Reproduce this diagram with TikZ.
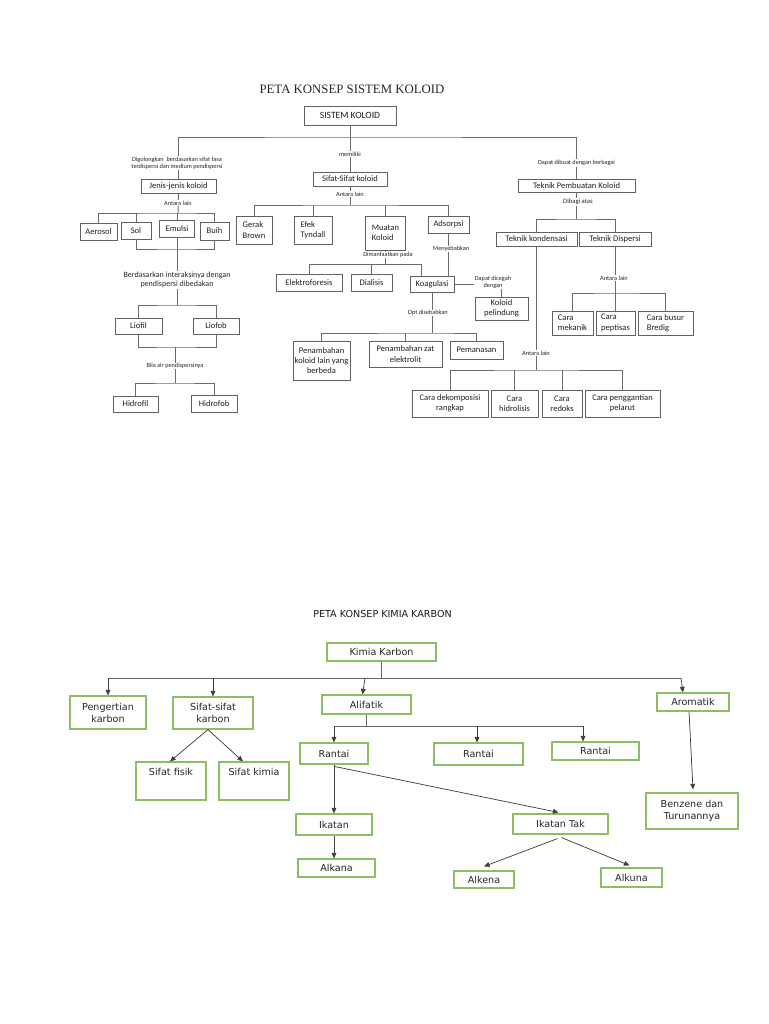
\documentclass[tikz,border=0pt]{standalone}
\usepackage{fontspec}
\newfontfamily\carl{Carlito}
\newfontfamily\dejav{DejaVu Sans}
\newfontfamily\tnr{Liberation Serif}
\usetikzlibrary{arrows.meta,calc}
\definecolor{gborder}{RGB}{140,190,100}
\begin{document}
\begin{tikzpicture}[x=0.75pt,y=-0.75pt,
  sz/.style 2 args={minimum width=#1*0.75pt,minimum height=#2*0.75pt},
  tbox/.style={draw=black!62,line width=0.7pt,font=\carl\fontsize{6.4}{7.8}\selectfont,text=black!88,inner sep=1pt,align=center},
  tlbl/.style={fill=white,inner sep=0.6pt,text=black!85,align=center,font=\carl\fontsize{4.7}{5.2}\selectfont},
  tline/.style={draw=black!58,line width=0.7pt},
  gbox/.style={draw=gborder,line width=0.85pt,font=\dejav\fontsize{7.2}{9}\selectfont,text=black!85,inner sep=1pt,align=center},
  toptext/.style={text height=5.25pt,text depth=14pt},
  arr/.style={draw=black!75,line width=0.55pt,-{Triangle[length=4.2pt,width=3.6pt]}},
  gline/.style={draw=black!60,line width=0.7pt},
]
\fill[white] (0,0) rectangle (768,1024);
\useasboundingbox (0,0) rectangle (768,1024);

%================ TOP: PETA KONSEP SISTEM KOLOID ================
\node[font=\tnr\fontsize{9.6}{11}\selectfont,text=black!85] (title1) at (352,89) {PETA KONSEP SISTEM KOLOID};

\node[tbox,sz={92}{19},font=\carl\fontsize{7.2}{8}\selectfont] (sk) at (350,115.5) {SISTEM KOLOID};

% left branch
\node[tbox,sz={75}{14}] (jk) at (178.5,186) {Jenis-jenis koloid};
\node[tbox,sz={37}{17}] (aer) at (98.5,231.5) {Aerosol};
\node[tbox,sz={30}{17}] (sol) at (136,230.5) {Sol};
\node[tbox,sz={35}{17}] (emul) at (177,228.5) {Emulsi};
\node[tbox,sz={29}{18}] (buih) at (214.5,231) {Buih};
\node[tbox,sz={47}{16}] (liofil) at (138.5,326) {Liofil};
\node[tbox,sz={46}{16}] (liofob) at (216,326) {Liofob};
\node[tbox,sz={45}{16}] (hfil) at (135.5,404) {Hidrofil};
\node[tbox,sz={46}{17}] (hfob) at (214,403.5) {Hidrofob};

% middle branch
\node[tbox,sz={74}{14}] (ssk) at (350,179) {Sifat-Sifat koloid};
\node[tbox,sz={36}{28},align=left] (gb) at (254,230) {Gerak\\Brown};
\node[tbox,sz={38}{28},align=left] (et) at (313,230) {Efek\\Tyndall};
\node[tbox,sz={40}{34},align=left] (mk) at (385.5,233) {Muatan\\Koloid};
\node[tbox,sz={41}{17}] (ads) at (448.5,224.5) {Adsorpsi};
\node[tbox,sz={66}{17}] (ef) at (309,282.5) {Elektroforesis};
\node[tbox,sz={41}{17}] (dial) at (371.5,282.5) {Dialisis};
\node[tbox,sz={44}{16}] (koag) at (432,284) {Koagulasi};
\node[tbox,sz={53}{23}] (kp) at (501.5,308.5) {Koloid\\pelindung};
\node[tbox,sz={57}{39}] (pk1) at (321.5,360.5) {Penambahan\\koloid lain yang\\berbeda};
\node[tbox,sz={73}{26}] (pz) at (405.5,354) {Penambahan zat\\elektrolit};
\node[tbox,sz={53}{18}] (pem) at (476.5,350) {Pemanasan};

% right branch
\node[tbox,sz={117}{13}] (tpk) at (576.5,185.5) {Teknik Pembuatan Koloid};
\node[tbox,sz={81}{14}] (tk) at (536.5,239) {Teknik kondensasi};
\node[tbox,sz={72}{14}] (td) at (615,239) {Teknik Dispersi};
\node[tbox,sz={41}{24},align=left] (cm) at (572.5,323) {Cara\\mekanik};
\node[tbox,sz={39}{24},align=left] (cp) at (615.5,323) {Cara\\peptisas};
\node[tbox,sz={55}{24},align=left] (cb) at (665.5,323) {Cara busur\\Bredig};
\node[tbox,sz={76}{27}] (cd) at (450,403.5) {Cara dekomposisi\\rangkap};
\node[tbox,sz={47}{27}] (ch) at (514.5,403.5) {Cara\\hidrolisis};
\node[tbox,sz={40}{27}] (cr) at (562,403.5) {Cara\\redoks};
\node[tbox,sz={75}{27}] (cpp) at (622.5,403.5) {Cara penggantian\\pelarut};

% junction coordinates
\coordinate (bt) at (350,137);
\coordinate (b213) at (178,213);
\coordinate (b249) at (177,249);
\coordinate (b305) at (177,305);
\coordinate (b347) at (175,347);
\coordinate (b383) at (175,383);
\coordinate (b205) at (350,205);
\coordinate (b264) at (385.5,264);
\coordinate (k264) at (421,264);
\coordinate (b333) at (432,333);
\coordinate (b219) at (576.5,219);
\coordinate (b293) at (615,293);
\coordinate (b370) at (536.5,370);

% connectors top
\draw[tline] (jk.north) |- (bt) -| (tpk.north);
\draw[tline] (sk.south) -- (ssk.north);
\draw[tline] (jk.south) -- (b213);
\draw[tline] (aer.north) |- (b213) -| (buih.north);
\draw[tline] (sol.north) -- (sol.north |- b213);
\draw[tline] (emul.north) -- (emul.north |- b213);
\draw[tline] (sol.south) |- (b249) -| (buih.south);
\draw[tline] (emul.south) -- (b305);
\draw[tline] (liofil.north) |- (b305) -| (liofob.north);
\draw[tline] (liofil.south) |- (b347) -| (liofob.south);
\draw[tline] (b347) -- (b383);
\draw[tline] (hfil.north) |- (b383) -| (hfob.north);

\draw[tline] (ssk.south) -- (b205);
\draw[tline] (gb.north) |- (b205) -| (ads.north);
\draw[tline] (et.north) -- (et.north |- b205);
\draw[tline] (mk.north) -- (mk.north |- b205);
\draw[tline] (mk.south) -- (b264);
\draw[tline] (ef.north) |- (k264) -- (k264 |- koag.north);
\draw[tline] (dial.north) -- (dial.north |- b264);
\draw[tline] (ads.south) -- (ads.south |- koag.north);
\draw[tline] (koag.east) -| (kp.north);
\draw[tline] (koag.south) -- (b333);
\draw[tline] (pk1.north) |- (b333) -| (pem.north);
\draw[tline] (pz.north) -- (pz.north |- b333);

\draw[tline] (tpk.south) -- (b219);
\draw[tline] (tk.north) |- (b219) -| (td.north);
\draw[tline] (td.south) -- (b293);
\draw[tline] (cm.north) |- (b293) -| (cb.north);
\draw[tline] (cp.north) -- (cp.north |- b293);
\draw[tline] (tk.south) -- (b370);
\draw[tline] (cd.north) |- (b370) -| (cpp.north);
\draw[tline] (ch.north) -- (ch.north |- b370);
\draw[tline] (cr.north) -- (cr.north |- b370);

% labels top
\node[tlbl] (l1) at (177,163) {Digolongkan \ berdasarkan sifat fasa\\terdispersi dan medium pendispersi};
\node[tlbl] (l2) at (350,154) {memiliki};
\node[tlbl] (l3) at (576.5,163) {Dapat dibuat dengan berbagai};
\node[tlbl] (l4) at (178,203) {Antara lain};
\node[tlbl,font=\carl\fontsize{6}{6.8}\selectfont] (l5) at (177,280) {Berdasarkan interaksinya dengan\\pendispersi dibedakan};
\node[tlbl] (l6) at (175,366) {Bila air pendispersinya};
\node[tlbl] (l7) at (350,194) {Antara lain};
\node[tlbl] (l8) at (388,255) {Dimanfaatkan pada};
\node[tlbl] (l9) at (451,249) {Menyebabkan};
\node[tlbl] (l10) at (493,282) {Dapat dicegah\\dengan};
\node[tlbl] (l11) at (428,313) {Dpt disebabkan};
\node[tlbl,font=\carl\fontsize{5}{6}\selectfont] (l12) at (578,202) {Dibagi atas};
\node[tlbl] (l13) at (614,278) {Antara lain};
\node[tlbl] (l14) at (536,353) {Antara lain};

%================ BOTTOM: PETA KONSEP KIMIA KARBON ================
\node[font=\dejav\fontsize{7.2}{9}\selectfont,text=black!90] (title2) at (382.5,614) {PETA KONSEP KIMIA KARBON};

\node[gbox,sz={109}{18}] (kk) at (381.5,652) {Kimia Karbon};
\node[gbox,sz={76}{33}] (pkb) at (108,712.5) {Pengertian\\karbon};
\node[gbox,sz={80}{32}] (sfk) at (213,713) {Sifat-sifat\\karbon};
\node[gbox,sz={89}{19}] (al) at (366.5,704.5) {Alifatik};
\node[gbox,sz={72}{18}] (ar) at (693,702) {Aromatik};
\node[gbox,sz={70}{38},toptext] (sfi) at (171,781) {Sifat fisik};
\node[gbox,sz={70}{38},toptext] (ski) at (254,781) {Sifat kimia};
\node[gbox,sz={68}{21}] (r1) at (334,753.5) {Rantai};
\node[gbox,sz={89}{22}] (r2) at (478.5,754) {Rantai};
\node[gbox,sz={87}{18}] (r3) at (595.5,751) {Rantai};
\node[gbox,sz={76}{21}] (ik) at (334,824.5) {Ikatan};
\node[gbox,sz={95}{20}] (it) at (560.5,824) {Ikatan Tak};
\node[gbox,sz={77}{18}] (alk) at (336.5,868) {Alkana};
\node[gbox,sz={60}{17}] (ake) at (484,879.5) {Alkena};
\node[gbox,sz={61}{19}] (aku) at (631.5,877.5) {Alkuna};
\node[gbox,sz={92}{36}] (bz) at (692,811) {Benzene dan\\Turunannya};

\coordinate (bL) at (108,678);
\coordinate (bS) at (213,678);
\coordinate (bA) at (365,678);
\coordinate (bR) at (681,678);
\coordinate (ba1) at (334,726);
\coordinate (ba2) at (477,726);
\coordinate (ba3) at (583,726);

\draw[gline] (kk.south) -- (kk.south |- bL);
\draw[gline] (bL) -- (bR);
\draw[arr] (bL) -- (pkb.north);
\draw[arr] (bS) -- (sfk.north);
\draw[arr] (bA) -- ($(al.north)+(-4,0)$);
\draw[arr] (bR) -- ($(ar.north)+(-10,0)$);
\draw[arr] ($(sfk.south)+(-5,0)$) -- ($(sfi.north)+(-1,0)$);
\draw[arr] ($(sfk.south)+(-5,0)$) -- ($(ski.north)+(-11,0)$);

\draw[gline] (al.south) -- (al.south |- ba1);
\draw[gline] (ba1) -- (ba3);
\draw[arr] (ba1) -- (r1.north);
\draw[arr] (ba2) -- (ba2 |- r2.north);
\draw[arr] (ba3) -- (ba3 |- r3.north);

\draw[arr] (r1.south) -- (ik.north);
\draw[arr] ($(r1.south)+(1,2)$) -- ($(it.north)+(-2,-1)$);
\draw[arr] (ik.south) -- (ik.south |- alk.north);
\draw[arr] ($(it.south)+(-3,4)$) -- ($(ake.north)+(0,-4)$);
\draw[arr] ($(it.south)+(1,3)$) -- ($(aku.north)+(-2,-2)$);
\draw[arr] ($(ar.south)+(-4,0)$) -- ($(bz.north)+(1,-3)$);
\end{tikzpicture}
\end{document}
